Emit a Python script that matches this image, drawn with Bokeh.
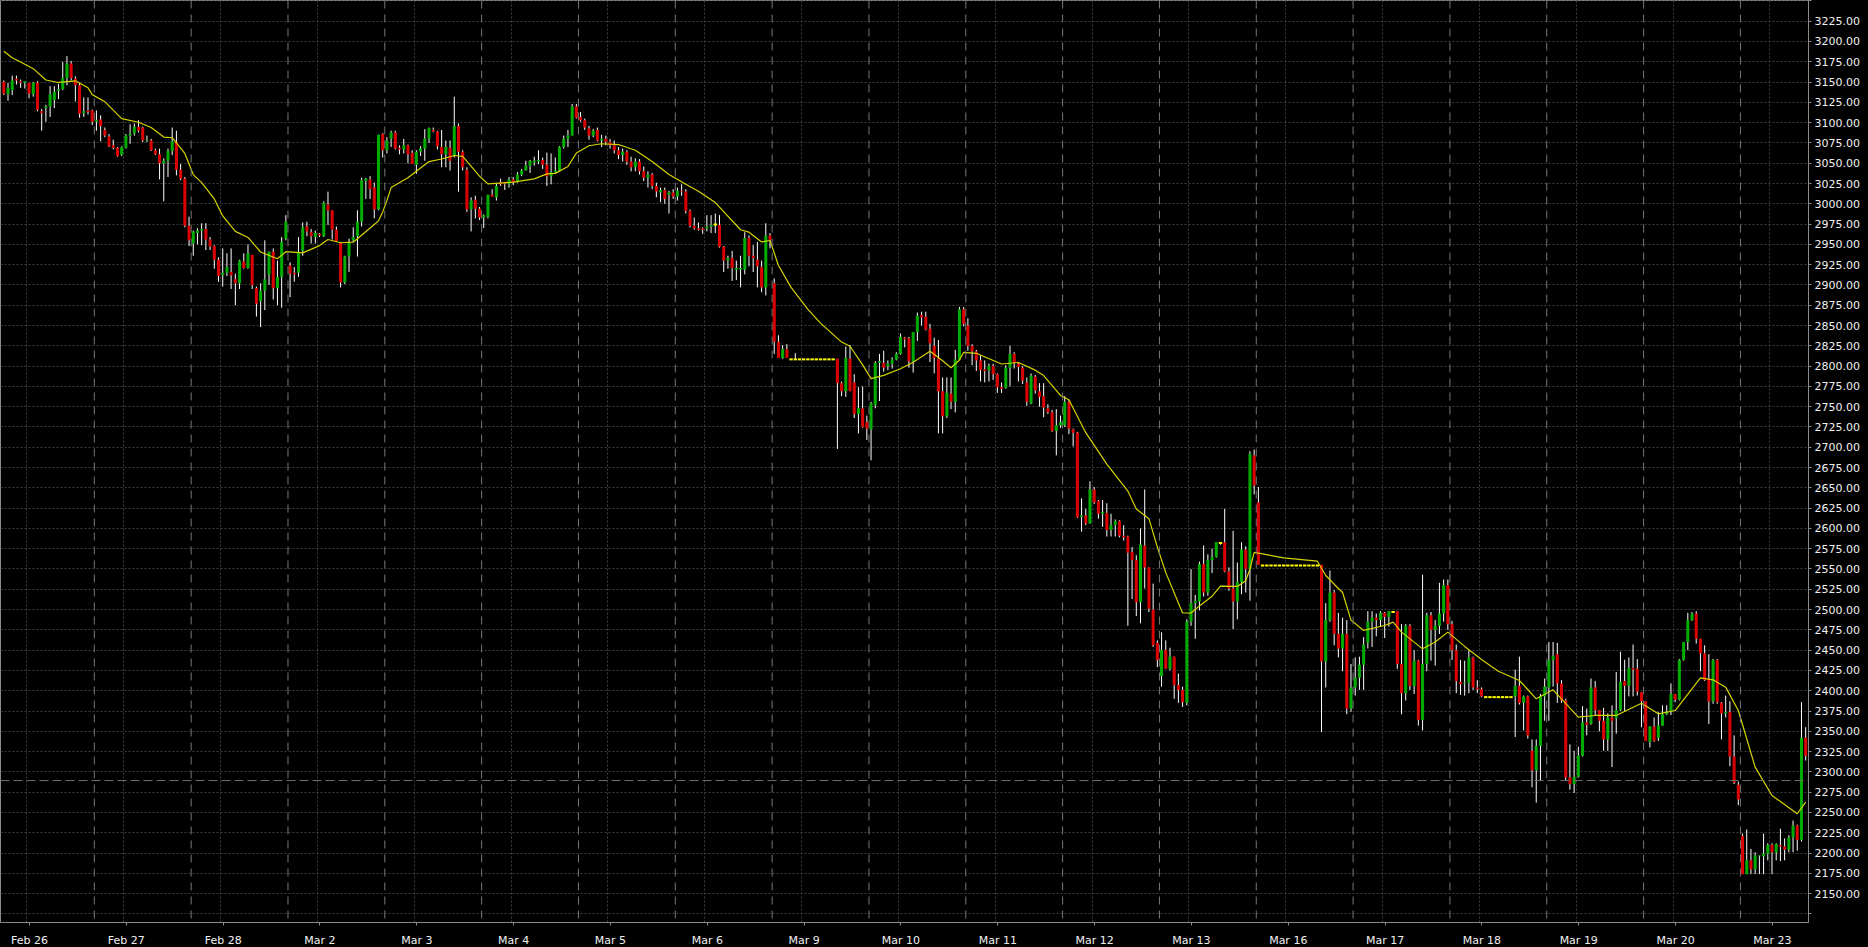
from bokeh.plotting import figure
from bokeh.models import Range1d, FixedTicker, LinearAxis, Span, ColumnDataSource, NumeralTickFormatter
from bokeh.embed import file_html
from bokeh.resources import INLINE

# ---------------- data (hourly candles, index = bar number) ----------------
opens = [
 3150,3135,3140,3154,3151,3149,3149,3135,3149,3114,
 3118,3120,3128,3139,3141,3155,3173,3154,3146,3112,
 3115,3115,3101,3104,3091,3083,3072,3069,3060,3069,
 3084,3087,3095,3094,3078,3078,3066,3061,3050,3053,
 3065,3076,3042,3031,2973,2951,2964,2967,2969,2956,
 2948,2931,2912,2915,2916,2907,2902,2929,2921,2937,
 2896,2880,2893,2913,2941,2896,2910,2957,2924,2915,
 2915,2942,2972,2965,2959,2963,2960,2999,2992,2968,
 2952,2903,2935,2955,2960,2978,3028,3030,3020,2993,
 3086,3066,3080,3088,3069,3067,3072,3063,3048,3064,
 3068,3080,3091,3089,3070,3061,3069,3059,3096,3064,
 3042,2993,3005,2994,2983,2984,3011,3008,3027,3025,
 3024,3030,3027,3036,3041,3047,3051,3052,3054,3048,
 3034,3039,3041,3070,3080,3084,3120,3107,3103,3093,
 3084,3091,3078,3080,3076,3072,3066,3060,3064,3052,
 3045,3052,3040,3032,3036,3022,3014,3017,3011,3014,
 3009,3016,3015,2991,2973,2970,2970,2970,2972,2974.5,
 2974,2947,2930,2933,2919,2919,2919,2958,2936,2931,
 2922,2897,2961,2902,2830,2810,2821,2808.3,2808.3,2808.3,
 2808.3,2808.3,2808.3,2808.3,2808.3,2808.3,2808.3,2808.3,2809,2779,
 2769,2809,2780,2741,2748,2731,2722,2752,2804,2804,
 2800,2803,2808,2815,2835,2834,2806,2842,2863,2861,
 2846,2825,2809,2769,2738,2766,2756,2808,2870,2850,
 2825,2818,2807,2796,2795,2800,2790,2774,2773,2798,
 2815,2803,2798,2780,2754,2787,2769,2763,2748,2743,
 2720,2727,2727,2756,2722,2718,2614,2616,2606,2648,
 2634,2618,2619,2598,2604,2609,2591,2590,2571,2561,
 2509,2579,2552,2500,2459,2418,2450,2427,2442,2407,
 2401,2385,2485,2508,2510,2556,2521,2561,2565,2582,
 2583,2547,2526,2510,2534,2574,2550,2690,2632,2554.3,
 2554.3,2554.3,2554.3,2554.3,2554.3,2554.3,2554.3,2554.3,2554.3,2554.3,
 2554.3,2554.3,2554.3,2555,2436,2487,2521,2470,2452,2470,
 2378,2404,2416,2432,2459,2485,2490,2487,2496,2491,
 2497,2498,2433,2397,2480,2406,2437,2364,2433,2493,
 2475,2480,2495,2530,2482,2450,2411,2409,2410,2441,
 2404,2402,2392.1,2392.1,2392.1,2392.1,2392.1,2392.1,2392.1,2393,
 2406,2385,2393,2326,2302,2332,2393,2404,2438,2445,
 2409,2388,2293,2285,2294,2320,2361,2359,2404,2376,
 2363,2340,2367,2366,2376,2412,2406,2428,2427,2398,
 2387,2337,2356,2342,2357,2371,2375,2396,2389,2438,
 2460,2487,2495,2464,2446,2415,2387,2438,2385,2372,
 2374,2319,2284,2221,2174,2191,2180,2196,2196,2199,
 2210,2201,2210,2208,2204,2219,2234,2216,2342]

highs = [
 3152,3149,3158,3158,3153,3151,3149,3150,3151,3117,
 3122,3145,3145,3148,3175,3182,3176,3157,3149,3131,
 3131,3116,3115,3109,3094,3086,3079,3070,3071,3086,
 3098,3099,3103,3095,3084,3080,3068,3068,3056,3068,
 3094,3090,3049,3033,2984,2967,2970,2976,2976,2959,
 2949,2934,2945,2939,2945,2914,2931,2939,2950,2937,
 2898,2902,2955,2941,2945,2930,2959,2986,2928,2922,
 2959,2977,2978,2969,2967,2964,3003,3015,2992,2972,
 2953,2936,2957,2971,2992,3032,3032,3034,3026,3085,
 3087,3082,3090,3090,3072,3080,3073,3066,3066,3071,
 3092,3094,3094,3090,3091,3078,3078,3132,3099,3066,
 3045,3008,3010,2996,2987,3011,3018,3025,3031,3027,
 3033,3033,3039,3043,3053,3054,3058,3066,3057,3063,
 3062,3057,3071,3084,3091,3123,3123,3113,3105,3096,
 3092,3094,3085,3084,3080,3078,3070,3068,3066,3058,
 3056,3055,3046,3040,3038,3026,3020,3020,3016,3018,
 3020,3024,3018,2993,2983,2977,2971,2986,2986,2988,
 2986,2948,2936,2942,2930,2936,2965,2961,2949,2953,
 2930,2976,2964,2908,2838,2826,2827,2808.3,2816,2808.3,
 2808.3,2808.3,2808.3,2808.3,2808.3,2808.3,2808.3,2808.3,2809,2781,
 2824,2826,2790,2774,2775,2739,2756,2806,2815,2819,
 2807,2811,2817,2840,2836,2836,2842,2866,2867,2867,
 2852,2835,2832,2786,2786,2786,2820,2873,2873,2859,
 2827,2820,2813,2807,2803,2803,2791,2780,2801,2825,
 2817,2805,2800,2786,2791,2789,2779,2779,2753,2746,
 2747,2739,2763,2758,2723,2719,2637,2624,2658,2651,
 2635,2635,2631,2618,2611,2610,2604,2591,2577,2567,
 2600,2648,2552,2532,2462,2472,2462,2453,2442,2421,
 2405,2488,2550,2518,2559,2579,2568,2575,2583,2583,
 2624,2552,2597,2558,2583,2578,2695,2697,2651,2554.3,
 2554.3,2554.3,2554.3,2554.3,2554.3,2554.3,2554.3,2554.3,2554.3,2554.3,
 2554.3,2554.3,2554.3,2555,2508,2548,2524,2496,2490,2487,
 2433,2441,2442,2466,2498,2498,2495,2498,2497,2498,
 2498,2498,2482,2482,2482,2450,2438,2543,2496,2497,
 2487,2533,2537,2537,2486,2457,2438,2437,2450,2442,
 2413,2404,2392.1,2392.1,2392.1,2392.1,2392.1,2392.1,2392.1,2426,
 2442,2394,2394,2340,2340,2396,2415,2460,2460,2459,
 2413,2390,2334,2326,2331,2381,2378,2415,2412,2376,
 2379,2372,2382,2423,2448,2438,2441,2457,2439,2398,
 2387,2356,2367,2374,2382,2382,2409,2396,2439,2460,
 2496,2497,2498,2464,2456,2445,2439,2439,2386,2394,
 2387,2345,2288,2224,2229,2205,2201,2197,2224,2212,
 2212,2212,2230,2218,2222,2240,2235,2386,2355]

lows = [
 3134,3127,3134,3147,3143,3142,3130,3132,3114,3090,
 3101,3107,3118,3129,3140,3146,3152,3126,3106,3107,
 3110,3097,3090,3077,3082,3070,3067,3058,3059,3068,
 3074,3084,3088,3076,3076,3065,3060,3030,3003,3033,
 3060,3035,3029,2971,2948,2936,2950,2949,2943,2943,
 2920,2904,2898,2911,2895,2875,2895,2920,2920,2895,
 2861,2848,2869,2900,2882,2875,2872,2955,2885,2904,
 2910,2936,2960,2951,2951,2959,2959,2974,2956,2953,
 2897,2901,2916,2953,2935,2972,3006,3006,2982,2992,
 3057,3062,3070,3067,3061,3062,3050,3049,3037,3059,
 3053,3075,3088,3067,3045,3045,3041,3057,3015,3041,
 2990,2966,2982,2980,2970,2982,3009,3004,3022,3017,
 3020,3023,3026,3034,3041,3038,3047,3049,3043,3022,
 3024,3037,3040,3068,3070,3084,3105,3101,3091,3079,
 3082,3077,3070,3072,3068,3062,3055,3052,3048,3040,
 3040,3036,3028,3020,3018,3008,3002,3000,2988,3006,
 3004,3010,2988,2971,2968,2967,2963,2966,2964,2964,
 2946,2916,2920,2905,2906,2897,2913,2923,2916,2897,
 2891,2887,2945,2815,2810,2809,2810,2808.3,2808.3,2808.3,
 2808.3,2808.3,2808.3,2808.3,2808.3,2808.3,2808.3,2808.3,2698,2763,
 2762,2769,2736,2717,2724,2709,2684,2748,2757,2793,
 2795,2797,2807,2814,2823,2798,2792,2831,2850,2844,
 2805,2791,2717,2717,2736,2747,2743,2808,2849,2819,
 2801,2794,2781,2780,2781,2783,2767,2767,2772,2775,
 2797,2781,2778,2751,2753,2766,2750,2737,2741,2719,
 2690,2724,2725,2716,2701,2613,2596,2604,2606,2630,
 2612,2602,2590,2590,2590,2589,2585,2480,2513,2492,
 2483,2526,2497,2454,2429,2405,2427,2425,2390,2385,
 2380,2382,2480,2464,2499,2516,2517,2545,2564,2580,
 2546,2523,2476,2488,2519,2521,2511,2642,2555,2554.3,
 2554.3,2554.3,2554.3,2554.3,2554.3,2554.3,2554.3,2554.3,2554.3,2554.3,
 2554.3,2554.3,2554.3,2349,2404,2485,2456,2441,2424,2371,
 2374,2394,2401,2401,2452,2454,2467,2479,2465,2479,
 2496,2427,2371,2388,2401,2396,2357,2351,2424,2437,
 2431,2470,2485,2475,2438,2397,2395,2394,2397,2401,
 2397,2392,2392.1,2392.1,2392.1,2392.1,2392.1,2392.1,2392.1,2343,
 2383,2351,2341,2281,2262,2289,2363,2363,2405,2385,
 2385,2290,2278,2274,2293,2319,2345,2358,2370,2350,
 2326,2326,2306,2347,2375,2375,2393,2393,2394,2355,
 2338,2330,2337,2338,2357,2370,2370,2386,2388,2437,
 2450,2486,2458,2424,2412,2359,2384,2384,2340,2367,
 2307,2285,2259,2174,2174,2174,2174,2174,2174,2191,
 2174,2191,2190,2191,2201,2201,2203,2214,2314]

closes = [
 3136,3143,3152,3152,3149,3151,3136,3149,3116,3112,
 3120,3135,3138,3141,3155,3173,3155,3146,3111,3114,
 3113,3101,3103,3096,3084,3071,3069,3059,3070,3084,
 3086,3095,3090,3078,3079,3066,3061,3050,3053,3065,
 3077,3042,3031,2973,2955,2966,2967,2969,2956,2947,
 2931,2911,2915,2922,2912,2902,2930,2921,2939,2900,
 2877,2893,2907,2941,2896,2910,2953,2978,2914,2913,
 2941,2971,2966,2960,2964,2961,3001,2992,2968,2954,
 2903,2935,2953,2959,2978,3029,3031,3018,2993,3085,
 3066,3078,3088,3068,3067,3072,3061,3049,3064,3068,
 3080,3093,3089,3071,3061,3070,3053,3096,3064,3045,
 2993,3004,2994,2983,2986,3011,3009,3022,3024,3024,
 3030,3027,3036,3041,3047,3053,3053,3054,3048,3034,
 3039,3041,3070,3080,3084,3120,3106,3103,3094,3084,
 3090,3078,3080,3076,3072,3066,3060,3064,3052,3045,
 3052,3040,3032,3036,3022,3015,3017,3006,3014,3009,
 3016,3015,2991,2973,2970,2968,2968,2972,2974,2974.5,
 2947,2930,2933,2921,2921,2921,2958,2936,2933,2923,
 2897,2961,2955,2830,2810,2821,2810,2808.3,2808.3,2808.3,
 2808.3,2808.3,2808.3,2808.3,2808.3,2808.3,2808.3,2808.3,2779,2769,
 2810,2769,2741,2748,2725,2723,2754,2804,2806,2798,
 2803,2808,2815,2836,2833,2806,2842,2862,2860,2845,
 2828,2810,2769,2738,2767,2756,2808,2870,2852,2825,
 2818,2807,2795,2794,2800,2790,2774,2772,2798,2815,
 2804,2799,2782,2756,2788,2770,2762,2749,2743,2720,
 2727,2731,2756,2723,2718,2614,2616,2606,2648,2632,
 2618,2620,2598,2604,2609,2591,2589,2570,2561,2509,
 2580,2552,2501,2456,2438,2450,2427,2442,2407,2401,
 2386,2485,2508,2511,2556,2521,2561,2565,2583,2582,
 2547,2526,2510,2534,2574,2550,2692,2653,2555,2554.3,
 2554.3,2554.3,2554.3,2554.3,2554.3,2554.3,2554.3,2554.3,2554.3,2554.3,
 2554.3,2554.3,2554.3,2436,2487,2521,2470,2452,2470,2378,
 2404,2416,2432,2457,2485,2490,2487,2496,2491,2498,
 2497,2433,2397,2480,2406,2437,2364,2433,2493,2475,
 2480,2495,2530,2482,2450,2412,2408,2410,2441,2404,
 2402,2393,2392.1,2392.1,2392.1,2392.1,2392.1,2392.1,2392.1,2406,
 2385,2393,2345,2302,2332,2393,2405,2438,2443,2409,
 2388,2293,2285,2294,2320,2361,2358,2404,2376,2363,
 2340,2367,2363,2376,2411,2406,2428,2426,2399,2387,
 2338,2356,2338,2357,2371,2374,2396,2389,2438,2460,
 2487,2495,2464,2446,2413,2387,2438,2386,2372,2374,
 2319,2287,2266,2174,2191,2180,2197,2197,2199,2210,
 2201,2211,2208,2204,2219,2234,2216,2342,2320]

# moving average (bar index, value)
ma_idx = [0,2,5,7,10,13,17,20,21,24,28,32,35,38,40,43,45,47,50,52,55,58,61,65,67,71,75,77,80,83,
          88,89,90,91,92,96,101,104,107,109,113,115,121,126,129,131,134,136,139,142,
          146,150,154,158,162,165,169,175,177,180,182,184,187,191,194,199,201,204,206,209,
          213,216,220,223,225,227,228,231,237,241,245,247,251,253,257,262,267,269,272,274,
          276,280,282,284,287,289,293,295,296,297,304,312,314,317,318,320,323,328,330,332,
          337,340,343,347,351,355,360,364,368,374,378,383,389,393,397,403,406,409,412,416,
          420,426,428]
ma_val = [3188,3180,3172,3166.5,3152.5,3149.5,3151.5,3143,3134.5,3125.8,3105,3100.5,3094,3082.2,3081.4,
          3062,3036,3026,3006,2985,2966,2958.5,2940.6,2932.2,2941,2939.5,2948.5,2956,2952,2952.7,
          2974.5,2979,2990,3004,3020,3032,3052,3055.2,3059.5,3058.5,3034,3024.6,3026.6,3030.7,3036.9,
          3037.5,3046,3062.5,3071.5,3074,
          3073,3066,3052,3036,3024,3015.5,3001.5,2968,2965,2953,2954.8,2924,2897,2870,2853,2829.6,
          2824.5,2801.5,2784.5,2788.6,
          2796.7,2804.8,2818.4,2806.5,2798,2807.5,2817,2815.8,2802.6,2804.5,2795,2788.4,2763.8,2758.5,
          2718,2679.2,2646,2624,2612,2577,
          2545.5,2495.8,2495.8,2504.5,2516.5,2529,2528.5,2535.5,2550,2570.5,2563.8,2559.6,2542,2526,
          2521,2487,2474.3,2480.4,2484.5,2472.2,
          2451.6,2460,2472.2,2454.6,2438.5,2424,2412.6,2390,2401.1,2367.4,2369.5,2369.5,2384.6,2371.5,
          2375.6,2415.8,2413.4,2404.4,2375.6,2305.8,
          2270.9,2248.4,2262.7]

day_labels = ["Feb 26", "Feb 27", "Feb 28", "Mar 2", "Mar 3", "Mar 4", "Mar 5", "Mar 6", "Mar 9",
              "Mar 10", "Mar 11", "Mar 12", "Mar 13", "Mar 16", "Mar 17", "Mar 18", "Mar 19",
              "Mar 20", "Mar 23"]
bars_per_day = 23
price_ticks = list(range(2125, 3251, 25))
ref_level = 2289.3

# ---------------- figure ----------------
n = len(closes)
p = figure(frame_width=1808, frame_height=922,
           x_range=Range1d(-0.784, 428.67), y_range=Range1d(2114.4, 3250.5),
           output_backend="svg", toolbar_location=None,
           x_axis_location=None, y_axis_location=None,
           background_fill_color="#000000", border_fill_color="#000000",
           min_border_left=0, min_border_top=0, min_border_right=60, min_border_bottom=25)
p.outline_line_color = "#8a8a8a"
p.outline_line_width = 1

# axes
yax = LinearAxis(ticker=FixedTicker(ticks=price_ticks),
                 formatter=NumeralTickFormatter(format="0.00"))
yax.major_label_overrides = {2125: "", 3250: ""}
yax.axis_line_color = "#8a8a8a"
yax.major_tick_line_color = "#8a8a8a"
yax.major_tick_out = 3
yax.major_tick_in = 0
yax.minor_tick_line_color = None
yax.major_label_standoff = 3
yax.major_label_text_color = "#f0f0f0"
yax.major_label_text_font = "DejaVu Sans"
yax.major_label_text_font_size = "11px"
p.add_layout(yax, "right")

label_pos = [6.1 + bars_per_day * k for k in range(len(day_labels))]
xax = LinearAxis(ticker=FixedTicker(ticks=label_pos))
xax.major_label_overrides = {pos: lab for pos, lab in zip(label_pos, day_labels)}
xax.axis_line_color = "#8a8a8a"
xax.major_tick_line_color = "#8a8a8a"
xax.major_tick_out = 3
xax.major_tick_in = 0
xax.minor_tick_line_color = None
xax.major_label_standoff = 8
xax.major_label_text_color = "#f0f0f0"
xax.major_label_text_font = "DejaVu Sans"
xax.major_label_text_font_size = "11px"
p.add_layout(xax, "below")

# grids
p.ygrid.ticker = FixedTicker(ticks=price_ticks)
p.ygrid.grid_line_color = "#3e3e3e"
p.ygrid.grid_line_dash = "2 2"
p.xgrid.ticker = FixedTicker(ticks=[5.5 + bars_per_day * k for k in range(len(day_labels))])
p.xgrid.grid_line_color = "#3e3e3e"
p.xgrid.grid_line_dash = "2 2"

# day separators
for k in range(len(day_labels) - 1):
    p.add_layout(Span(location=21.5 + bars_per_day * k, dimension="height",
                      line_color="#777777", line_dash="8 6", line_width=1))

p.add_layout(Span(location=ref_level, dimension="width", line_color="#707070",
                  line_dash="9 4", line_width=1))

# candles
idx = list(range(n))
up = [i for i in idx if closes[i] > opens[i]]
dn = [i for i in idx if closes[i] < opens[i]]
dj = [i for i in idx if closes[i] == opens[i]]

wick = ColumnDataSource(dict(x=idx, lo=lows, hi=highs))
p.segment(x0="x", y0="lo", x1="x", y1="hi", source=wick, line_color="#ffffff", line_width=1)

p.vbar(x=up, width=0.72, top=[closes[i] for i in up], bottom=[opens[i] for i in up],
       fill_color="#00ac00", line_color=None)
p.vbar(x=dn, width=0.72, top=[opens[i] for i in dn], bottom=[closes[i] for i in dn],
       fill_color="#dc0000", line_color=None)
p.rect(x=dj, y=[opens[i] for i in dj], width=0.8, height=2, height_units="screen",
       fill_color="#ffff00", line_color=None)

# moving average
p.line(ma_idx, ma_val, line_color="#d4d400", line_width=1.2)

html = file_html(p, INLINE, title="chart")
html = html.replace("</head>", "<style>html,body{margin:0;padding:0;background:#000;overflow:hidden}</style></head>", 1)
open("out.html", "w").write(html)
